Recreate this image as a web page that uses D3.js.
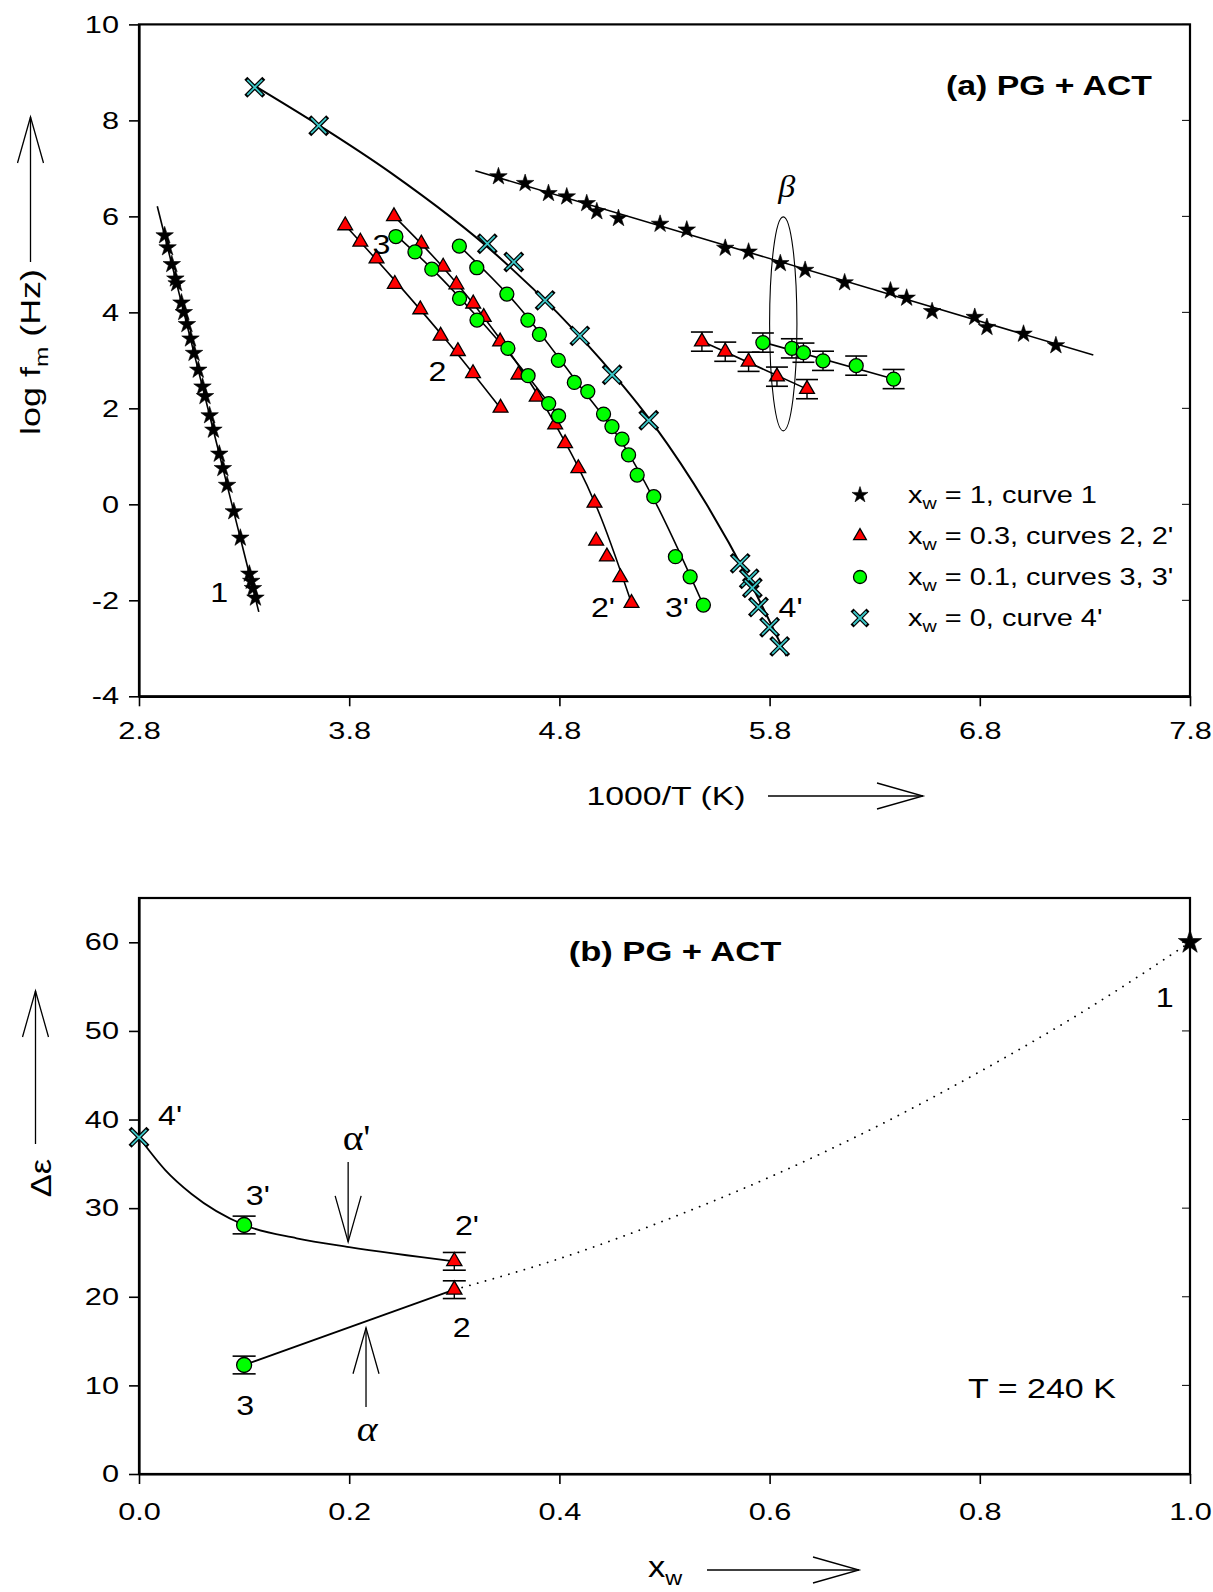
<!DOCTYPE html>
<html><head><meta charset="utf-8">
<script src="https://cdn.jsdelivr.net/npm/d3@7"></script>
<style>
body{margin:0;background:#fff}
svg{display:block}
</style>
</head><body>
<svg id="c" width="1213" height="1592"></svg>
<script>
// ---------------- Panel (a): log fm vs 1000/T ----------------
const xTicksA = [2.8, 3.8, 4.8, 5.8, 6.8, 7.8];
const yTicksA = [-4, -2, 0, 2, 4, 6, 8, 10];

// curve 1, x_w = 1 (alpha)
const stars1 = [[2.922,5.6],[2.936,5.35],[2.956,5.0],[2.973,4.7],[2.979,4.6],[3.002,4.2],[3.013,4.0],[3.028,3.75],[3.045,3.45],[3.062,3.15],[3.082,2.8],[3.102,2.45],[3.114,2.25],[3.136,1.85],[3.154,1.55],[3.182,1.05],[3.199,0.75],[3.219,0.4],[3.251,-0.15],[3.282,-0.7],[3.325,-1.45],[3.334,-1.6],[3.342,-1.75],[3.354,-1.95]];
const fit1 = [[2.887,6.21],[3.37,-2.24]];

// curve 2, x_w = 0.3
const tri2 = [[3.781,5.81],[3.853,5.47],[3.930,5.12],[4.017,4.59],[4.138,4.06],[4.235,3.51],[4.317,3.19],[4.389,2.73],[4.52,2.01]];
const fit2 = [[3.78,5.82],[4.0,4.75],[4.25,3.48],[4.52,2.0]];
// curve 2', x_w = 0.3
const tri2p = [[4.013,6.0],[4.143,5.43],[4.247,4.95],[4.31,4.58],[4.39,4.18],[4.44,3.9],[4.518,3.39],[4.605,2.7],[4.692,2.24],[4.78,1.66],[4.827,1.27],[4.89,0.75],[4.967,0.03],[4.975,-0.76],[5.026,-1.09],[5.09,-1.52],[5.143,-2.06]];
const fit2p = [[4.01,6.02],[4.25,4.92],[4.5,3.55],[4.75,1.9],[5.0,-0.3],[5.15,-2.15]];
// curve 3, x_w = 0.1
const circ3 = [[4.022,5.58],[4.113,5.26],[4.193,4.90],[4.325,4.29],[4.408,3.84],[4.555,3.25],[4.651,2.68],[4.749,2.10],[4.796,1.84]];
const fit3 = [[4.02,5.62],[4.2,4.88],[4.4,3.95],[4.6,2.94],[4.8,1.82]];
// curve 3', x_w = 0.1
const circ3p = [[4.324,5.38],[4.407,4.93],[4.55,4.38],[4.65,3.84],[4.705,3.54],[4.795,3.0],[4.871,2.54],[4.935,2.35],[5.01,1.88],[5.05,1.62],[5.098,1.36],[5.129,1.03],[5.17,0.61],[5.249,0.16],[5.352,-1.09],[5.422,-1.51],[5.485,-2.1]];
const fit3p = [[4.32,5.4],[4.6,4.15],[4.9,2.45],[5.1,1.27],[5.25,0.1],[5.49,-2.15]];
// curve 4', x_w = 0
const cross4p = [[3.351,8.69],[3.655,7.89],[4.457,5.43],[4.583,5.05],[4.732,4.25],[4.897,3.51],[5.051,2.70],[5.225,1.75],[5.66,-1.23],[5.703,-1.55],[5.718,-1.74],[5.747,-2.14],[5.80,-2.56],[5.848,-2.96]];
const fit4p = [[3.35,8.72],[3.655,7.9],[4.0,6.9],[4.5,5.2],[5.0,3.0],[5.25,1.65],[5.5,0.0],[5.7,-1.56],[5.88,-3.16]];

// beta process, x_w = 1
const starsBeta = [[4.510,6.83],[4.637,6.69],[4.748,6.48],[4.835,6.41],[4.930,6.27],[4.978,6.10],[5.081,5.96],[5.279,5.84],[5.406,5.72],[5.589,5.34],[5.700,5.26],[5.851,5.02],[5.969,4.88],[6.157,4.62],[6.375,4.45],[6.452,4.30],[6.573,4.02],[6.776,3.90],[6.834,3.69],[7.008,3.55],[7.162,3.31]];
const fitBeta = [[4.40,6.95],[7.34,3.11]];
// beta process, x_w = 0.3 and 0.1 (with error bars)
const triBeta = [[5.478,3.39],[5.589,3.18],[5.700,2.97],[5.835,2.66],[5.978,2.40]];
const fitTriBeta = [[5.478,3.40],[5.978,2.40]];
const circBeta = [[5.768,3.37],[5.906,3.25],[5.961,3.16],[6.054,2.99],[6.212,2.89],[6.390,2.61]];
const fitCircBeta = [[5.768,3.38],[6.39,2.61]];
const errBeta = 0.2;
const betaEllipse = {cx: 5.865, cy: 3.76, rx: 0.065, ry: 2.23};

const legendA = [
  {sym: "star", main: "x", sub: "w", rest: " = 1, curve 1"},
  {sym: "tri", main: "x", sub: "w", rest: " = 0.3, curves 2, 2'"},
  {sym: "circ", main: "x", sub: "w", rest: " = 0.1, curves 3, 3'"},
  {sym: "cross", main: "x", sub: "w", rest: " = 0, curve 4'"}
];
const labelsA = [["1",3.181,-1.83],["2",4.22,2.77],["3",3.954,5.43],["2'",5.007,-2.14],["3'",5.359,-2.14],["4'",5.90,-2.14]];

// ---------------- Panel (b): Δε vs x_w ----------------
const xTicksB = [0.0, 0.2, 0.4, 0.6, 0.8, 1.0];
const yTicksB = [0, 10, 20, 30, 40, 50, 60];
const crossB = [[0, 38]];
const circB = [[0.1, 28.1], [0.1, 12.3]];
const triB = [[0.3, 24.0], [0.3, 20.8]];
const starB = [[1.0, 60]];
const errB = 1.0;
const upperCurveB = [[0,38],[0.025,34.3],[0.05,31.6],[0.1,28.1],[0.15,26.6],[0.2,25.6],[0.3,24.0]];
const lowerLineB = [[0.1,12.3],[0.3,20.8]];
const dottedB = [[0.3,20.8],[0.4,24.3],[0.5,28.6],[0.6,33.5],[0.7,39.1],[0.8,45.4],[0.9,52.3],[1.0,60]];
const labelsB = [["4'",0.0295,40.5],["3'",0.113,31.5],["2'",0.312,28.1],["2",0.307,16.6],["3",0.101,7.8],["1",0.976,53.8]];

// ---------------- drawing ----------------
const SANS = '"Liberation Sans", Arial, Helvetica, sans-serif';
const SERIF = '"Liberation Serif", "DejaVu Serif", "Times New Roman", serif';
const S = 1.28; // horizontal text stretch of the original
const CYAN = "#3cc8c8";
const svg = d3.select("#c");
svg.append("rect").attr("width",1213).attr("height",1592).attr("fill","#fff");

const L = 139, R = 1190;
const xA = d3.scaleLinear([2.8, 7.8], [L, R]);
const yA = d3.scaleLinear([-4, 10], [696.3, 24.4]);
const xB = d3.scaleLinear([0, 1], [L, R]);
const yB = d3.scaleLinear([0, 65], [1474, 898]);

function txt(g, x, y, str, o = {}) {
  const size = o.size || 24;
  const t = g.append("text")
    .attr("transform", `translate(${x},${y}) rotate(${o.rot || 0}) scale(${o.sx || S},1)`)
    .attr("text-anchor", o.anchor || "middle")
    .attr("dy", o.dy || "0.35em")
    .attr("font-family", o.family || SANS)
    .attr("font-size", size)
    .attr("font-weight", o.weight || "normal")
    .attr("font-style", o.style || "normal")
    .attr("fill", "#000");
  if (o.sub) {
    t.append("tspan").text(str);
    t.append("tspan").attr("font-size", size * 0.68).attr("dy", size * 0.28).text(o.sub);
    if (o.rest) t.append("tspan").attr("dy", -size * 0.28).text(o.rest);
  } else t.text(str);
  return t;
}

function arrow(g, x1, y1, x2, y2) {
  const ang = Math.atan2(y2 - y1, x2 - x1), len = 46, hw = 13;
  const bx = x2 - len * Math.cos(ang), by = y2 - len * Math.sin(ang);
  const px = -Math.sin(ang) * hw, py = Math.cos(ang) * hw;
  g.append("line").attr("x1",x1).attr("y1",y1).attr("x2",x2).attr("y2",y2).attr("stroke","#000").attr("stroke-width",1.3);
  g.append("path").attr("d", `M${bx+px},${by+py}L${x2},${y2}L${bx-px},${by-py}`).attr("fill","none").attr("stroke","#000").attr("stroke-width",1.3);
}

function styleAxis(g, size) {
  g.attr("font-family", SANS).attr("font-size", size);
  g.select(".domain").attr("stroke-width", 2.2);
  g.selectAll(".tick line").attr("stroke-width", 1.6);
  g.selectAll(".tick text").each(function() {
    const t = d3.select(this);
    const x = +t.attr("x") || 0, y = +t.attr("y") || 0;
    t.attr("x", 0).attr("y", 0).attr("transform", `translate(${x},${y}) scale(${S},1)`).attr("fill","#000");
  });
}

const lineGen = (xs, ys) => d3.line().x(d => xs(d[0])).y(d => ys(d[1])).curve(d3.curveMonotoneX);

function drawStars(g, data, xs, ys, size) {
  g.selectAll(null).data(data).join("path")
    .attr("d", d3.symbol().type(d3.symbolStar).size(size || 95)())
    .attr("transform", d => `translate(${xs(d[0])},${ys(d[1])})`)
    .attr("fill", "#000").attr("stroke", "#000").attr("stroke-width", 0.6);
}
function drawTris(g, data, xs, ys, size) {
  g.selectAll(null).data(data).join("path")
    .attr("d", d3.symbol().type(d3.symbolTriangle).size(size || 95)())
    .attr("transform", d => `translate(${xs(d[0])},${ys(d[1])})`)
    .attr("fill", "#ff0000").attr("stroke", "#000").attr("stroke-width", 1.3);
}
function drawCircs(g, data, xs, ys, r) {
  g.selectAll(null).data(data).join("circle")
    .attr("cx", d => xs(d[0])).attr("cy", d => ys(d[1])).attr("r", r || 7)
    .attr("fill", "#00ff00").attr("stroke", "#000").attr("stroke-width", 1.3);
}
function drawCrosses(g, data, xs, ys, a) {
  a = a || 7.5;
  const p = `M${-a},${-a}L${a},${a}M${-a},${a}L${a},${-a}`;
  const gg = g.selectAll(null).data(data).join("g").attr("transform", d => `translate(${xs(d[0])},${ys(d[1])})`);
  gg.append("path").attr("d", p).attr("stroke", "#000").attr("stroke-width", 4.2).attr("stroke-linecap","square");
  gg.append("path").attr("d", p).attr("stroke", CYAN).attr("stroke-width", 1.8);
}
function drawErr(g, data, xs, ys, e, cap) {
  const gg = g.selectAll(null).data(data).join("g");
  gg.append("line").attr("x1", d => xs(d[0])).attr("x2", d => xs(d[0]))
    .attr("y1", d => ys(d[1] - e)).attr("y2", d => ys(d[1] + e)).attr("stroke", "#000").attr("stroke-width", 1.4);
  [e, -e].forEach(s => gg.append("line").attr("x1", d => xs(d[0]) - cap).attr("x2", d => xs(d[0]) + cap)
    .attr("y1", d => ys(d[1] + s)).attr("y2", d => ys(d[1] + s)).attr("stroke", "#000").attr("stroke-width", 1.6));
}
function drawFit(g, data, xs, ys, w, dash) {
  const p = g.append("path").attr("d", lineGen(xs, ys)(data)).attr("fill", "none").attr("stroke", "#000").attr("stroke-width", w || 1.5);
  if (dash) p.attr("stroke-dasharray", dash).attr("stroke-linecap", "round");
  return p;
}

// ===== Panel (a) =====
const ga = svg.append("g");
yTicksA.forEach(v => ga.append("line").attr("x1", R).attr("x2", R - 8).attr("y1", yA(v)).attr("y2", yA(v)).attr("stroke", "#000").attr("stroke-width", 1));
ga.append("rect").attr("x", L).attr("y", yA(10)).attr("width", R - L).attr("height", yA(-4) - yA(10))
  .attr("fill", "none").attr("stroke", "#000").attr("stroke-width", 2.2);
const axLA = ga.append("g").attr("transform", `translate(${L},0)`)
  .call(d3.axisLeft(yA).tickValues(yTicksA).tickFormat(d => String(d)).tickSize(10).tickPadding(10).tickSizeOuter(0));
styleAxis(axLA, 24);
const axBA = ga.append("g").attr("transform", `translate(0,${yA(-4)})`)
  .call(d3.axisBottom(xA).tickValues(xTicksA).tickFormat(d3.format(".1f")).tickSize(10).tickPadding(16).tickSizeOuter(0));
styleAxis(axBA, 24);

drawFit(ga, fit1, xA, yA, 1.6);
drawFit(ga, fit2, xA, yA, 1.6);
drawFit(ga, fit2p, xA, yA, 1.6);
drawFit(ga, fit3, xA, yA, 1.6);
drawFit(ga, fit3p, xA, yA, 1.6);
drawFit(ga, fit4p, xA, yA, 2.0);
drawFit(ga, fitBeta, xA, yA, 1.6);
drawFit(ga, fitTriBeta, xA, yA, 1.6);
drawFit(ga, fitCircBeta, xA, yA, 1.6);
drawErr(ga, triBeta, xA, yA, errBeta, 11);
drawErr(ga, circBeta, xA, yA, errBeta, 11);
drawStars(ga, stars1, xA, yA);
drawStars(ga, starsBeta, xA, yA);
drawTris(ga, tri2, xA, yA);
drawTris(ga, tri2p, xA, yA);
drawCircs(ga, circ3, xA, yA);
drawCircs(ga, circ3p, xA, yA);
drawCrosses(ga, cross4p, xA, yA);
drawTris(ga, triBeta, xA, yA);
drawCircs(ga, circBeta, xA, yA);
ga.append("ellipse").attr("cx", xA(betaEllipse.cx)).attr("cy", yA(betaEllipse.cy))
  .attr("rx", xA(betaEllipse.cx + betaEllipse.rx) - xA(betaEllipse.cx))
  .attr("ry", yA(betaEllipse.cy) - yA(betaEllipse.cy + betaEllipse.ry))
  .attr("fill", "none").attr("stroke", "#000").attr("stroke-width", 1.1);
txt(ga, xA(5.881), yA(6.62), "β", {family: SERIF, style: "italic", size: 31, sx: 1.1});
labelsA.forEach(l => txt(ga, xA(l[1]), yA(l[2]), l[0], {size: 28, sx: 1.15}));
txt(ga, 1049, 86, "(a) PG + ACT", {size: 27, weight: "bold", sx: 1.25});
legendA.forEach((it, i) => {
  const y = 495 + i * 41, x = 860;
  const gl = ga.append("g");
  if (it.sym === "star") drawStars(gl, [[x, y]], d => d, d => d, 80);
  if (it.sym === "tri") drawTris(gl, [[x, y]], d => d, d => d, 70);
  if (it.sym === "circ") drawCircs(gl, [[x, y]], d => d, d => d, 6.5);
  if (it.sym === "cross") drawCrosses(gl, [[x, y]], d => d, d => d, 6.5);
  txt(ga, 908, y, it.main, {anchor: "start", size: 23, sub: it.sub, rest: it.rest, sx: 1.26});
});
txt(ga, 31, 352, "log f", {rot: -90, size: 27, sub: "m", rest: " (Hz)", sx: 1.33});
arrow(ga, 30.5, 262, 30.5, 117);
txt(ga, 666, 796, "1000/T (K)", {size: 26, sx: 1.3});
arrow(ga, 768, 796, 923, 796);

// ===== Panel (b) =====
const gb = svg.append("g");
yTicksB.forEach(v => { if (v > 0) gb.append("line").attr("x1", R).attr("x2", R - 8).attr("y1", yB(v)).attr("y2", yB(v)).attr("stroke", "#000").attr("stroke-width", 1); });
gb.append("rect").attr("x", L).attr("y", yB(65)).attr("width", R - L).attr("height", yB(0) - yB(65))
  .attr("fill", "none").attr("stroke", "#000").attr("stroke-width", 2.2);
const axLB = gb.append("g").attr("transform", `translate(${L},0)`)
  .call(d3.axisLeft(yB).tickValues(yTicksB).tickFormat(d => String(d)).tickSize(10).tickPadding(10).tickSizeOuter(0));
styleAxis(axLB, 24);
const axBB = gb.append("g").attr("transform", `translate(0,${yB(0)})`)
  .call(d3.axisBottom(xB).tickValues(xTicksB).tickFormat(d3.format(".1f")).tickSize(10).tickPadding(19).tickSizeOuter(0));
styleAxis(axBB, 24);

drawFit(gb, upperCurveB, xB, yB, 1.8);
drawFit(gb, lowerLineB, xB, yB, 1.8);
drawFit(gb, dottedB, xB, yB, 1.8, "0.1,8");
drawErr(gb, circB, xB, yB, errB, 11.5);
drawErr(gb, triB, xB, yB, errB, 11.5);
drawCircs(gb, circB, xB, yB, 7.5);
drawTris(gb, triB, xB, yB, 100);
drawCrosses(gb, crossB, xB, yB, 7.5);
drawStars(gb, starB, xB, yB, 170);
labelsB.forEach(l => txt(gb, xB(l[1]), yB(l[2]), l[0], {size: 28, sx: 1.15}));
arrow(gb, xB(0.199), yB(35.2), xB(0.199), yB(26.2));
txt(gb, xB(0.207), yB(38.0), "α'", {family: SERIF, size: 36, sx: 1.1});
arrow(gb, xB(0.216), yB(7.56), xB(0.216), yB(16.5));
txt(gb, xB(0.217), yB(5.2), "α", {family: SERIF, style: "italic", size: 36, sx: 1.1});
txt(gb, 675, 952, "(b) PG + ACT", {size: 27, weight: "bold", sx: 1.28});
txt(gb, 1042, 1389, "T = 240 K", {size: 27, sx: 1.26});
txt(gb, 40, 1178, "Δε", {rot: -90, size: 30, sx: 1.15});
arrow(gb, 35.5, 1144, 35.5, 991);
txt(gb, 648, 1566, "x", {anchor: "start", size: 30, sub: "w", sx: 1.15});
arrow(gb, 707, 1570, 859, 1570);
</script>
</body></html>
